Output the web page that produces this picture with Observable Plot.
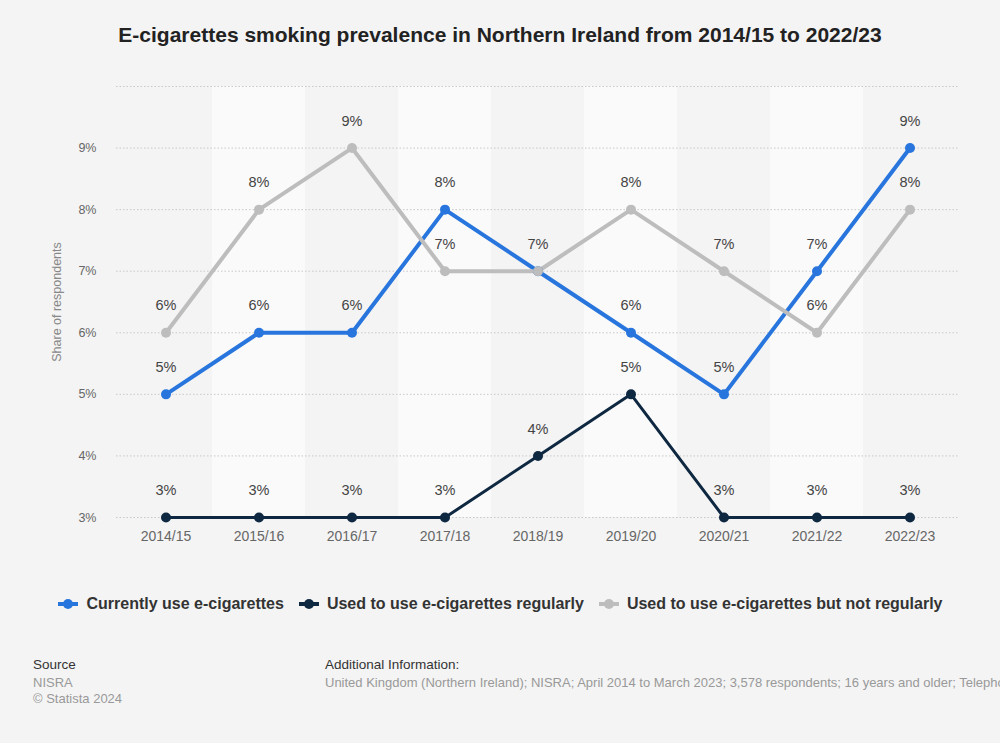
<!DOCTYPE html>
<html>
<head>
<meta charset="utf-8">
<script src="https://cdn.jsdelivr.net/npm/d3@7"></script>
<script src="https://cdn.jsdelivr.net/npm/@observablehq/plot@0.6"></script>
<style>
  html, body { margin: 0; padding: 0; background: #f4f4f4; width: 1000px; height: 743px; overflow: hidden; font-family: "Liberation Sans", Arial, sans-serif; }
  #title { position: absolute; left: 0; width: 1000px; top: 23px; text-align: center; font-weight: bold; font-size: 21px; color: #222; }
  #chart { position: absolute; left: 0; top: 60px; }
  #legend { position: absolute; left: 0; width: 1000px; top: 595px; display: flex; justify-content: center; gap: 14px; font-weight: bold; font-size: 16px; color: #333; }
  .item { display: flex; align-items: center; gap: 7px; }
  .foot { position: absolute; font-size: 13px; white-space: nowrap; }
</style>
</head>
<body>
<div id="title">E-cigarettes smoking prevalence in Northern Ireland from 2014/15 to 2022/23</div>
<div id="chart"></div>
<div id="legend"></div>
<div class="foot" style="left:33px;top:657px;color:#333;font-size:13.5px">Source</div>
<div class="foot" style="left:33px;top:675px;color:#999">NISRA</div>
<div class="foot" style="left:33px;top:691px;color:#999">© Statista 2024</div>
<div class="foot" style="left:325px;top:657px;color:#333;font-size:13.5px">Additional Information:</div>
<div class="foot" style="left:325px;top:675px;color:#999">United Kingdom (Northern Ireland); NISRA; April 2014 to March 2023; 3,578 respondents; 16 years and older; Telephone interview</div>
<script>
const years = ["2014/15","2015/16","2016/17","2017/18","2018/19","2019/20","2020/21","2021/22","2022/23"];
const seriesNames = ["Currently use e-cigarettes","Used to use e-cigarettes regularly","Used to use e-cigarettes but not regularly"];
const currently = [5,6,6,8,7,6,5,7,9];
const regularly = [3,3,3,3,4,5,3,3,3];
const notRegularly = [6,8,9,7,7,8,7,6,8];
const colors = ["#2876dd","#0f2841","#bdbdbd"];
const yTicks = [3,4,5,6,7,8,9,10];
const lightBands = ["2015/16","2017/18","2019/20","2021/22"];

const all = [currently, regularly, notRegularly];
const data = [];
all.forEach((vals, s) => vals.forEach((v, i) => data.push({year: years[i], value: v, series: seriesNames[s]})));
// one label per distinct (year, value)
const seen = new Set();
const labels = data.filter(d => { const k = d.year + "|" + d.value; if (seen.has(k)) return false; seen.add(k); return true; });

const widths = {[seriesNames[0]]: 4, [seriesNames[1]]: 3, [seriesNames[2]]: 4};

const plot = Plot.plot({
  width: 1000,
  height: 500,
  marginLeft: 116,
  marginRight: 42,
  marginTop: 26,
  marginBottom: 43,
  style: {background: "transparent", fontFamily: "Liberation Sans, Arial, sans-serif"},
  x: {type: "band", domain: years, padding: 0},
  y: {domain: [3, 10]},
  color: {domain: seriesNames, range: colors},
  marks: [
    Plot.barY(lightBands, {x: d => d, y1: yTicks[0], y2: yTicks[yTicks.length-1], fill: "#fafafa"}),
    Plot.ruleY(yTicks, {stroke: "#c8c8c8", strokeDasharray: "1.5,2", strokeWidth: 1}),
    Plot.axisY({ticks: yTicks.slice(0, -1), tickSize: 0, tickPadding: 20, tickFormat: d => d + "%", fontSize: 12.5, color: "#666",
      label: "Share of respondents", labelAnchor: "center", labelOffset: 64, labelArrow: "none"}),
    Plot.axisX({tickSize: 0, tickPadding: 14, fontSize: 14, color: "#666", label: null}),
    ...seriesNames.map((name, s) =>
      Plot.line(data.filter(d => d.series === name), {x: "year", y: "value", stroke: colors[s], strokeWidth: widths[name]})),
    ...seriesNames.map((name, s) =>
      Plot.dot(data.filter(d => d.series === name), {x: "year", y: "value", fill: colors[s], r: 5})),
    Plot.text(labels, {x: "year", y: "value", text: d => d.value + "%", dy: -27, fontSize: 14.5, fill: "#444"})
  ]
});
// style y label
plot.querySelectorAll("text").forEach(t => {
  if (t.textContent.includes("Share of respondents")) { t.setAttribute("fill", "#888"); t.style.fontSize = "12.5px"; }
});
document.getElementById("chart").appendChild(plot);

const legend = document.getElementById("legend");
seriesNames.forEach((name, s) => {
  const item = document.createElement("div");
  item.className = "item";
  item.innerHTML = `<svg width="22" height="12"><line x1="1" x2="21" y1="6" y2="6" stroke="${colors[s]}" stroke-width="4"/><circle cx="11" cy="6" r="5" fill="${colors[s]}"/></svg><span>${name}</span>`;
  legend.appendChild(item);
});
</script>
</body>
</html>
